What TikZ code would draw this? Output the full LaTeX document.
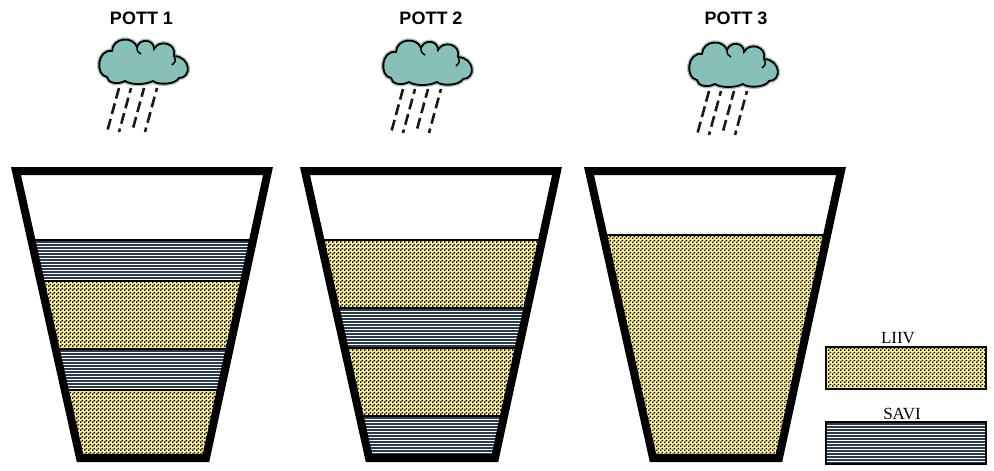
\documentclass[tikz,border=0pt]{standalone}
\usepackage{fontspec}
\setmainfont{Liberation Serif}
\newfontfamily\titlefont{Liberation Sans}
\usetikzlibrary{patterns}

\pgfdeclarepatternformonly{liivdots}{\pgfqpoint{0pt}{0pt}}{\pgfqpoint{4pt}{4pt}}{\pgfqpoint{4pt}{4pt}}{%
  \pgfpathrectangle{\pgfqpoint{0.15pt}{0.15pt}}{\pgfqpoint{1.7pt}{1.7pt}}%
  \pgfpathrectangle{\pgfqpoint{2.15pt}{2.15pt}}{\pgfqpoint{1.7pt}{1.7pt}}%
  \pgfusepath{fill}}

\definecolor{liivyellow}{HTML}{FFF396}
\definecolor{savicolor}{HTML}{2B3B4B}
\definecolor{cloudfill}{HTML}{86C0B8}
\definecolor{cloudhalo}{HTML}{A9BFBB}

\newcommand{\potpath}[1]{(16+#1,171) -- (268+#1,171) -- (206+#1,458) -- (80+#1,458) -- cycle}

% x1 x2 y1 y2 N : white band with N+1 horizontal lines
\newcommand{\savifill}[5]{%
  \fill[white] (#1,#3) rectangle (#2,#4);
  \foreach \k in {0,...,#5} \draw[saviline] (#1,#3+2+3*\k) -- (#2,#3+2+3*\k);}

\newcommand{\cloudrain}[2]{%
  \begin{scope}[shift={(#1,#2)}]
    \path[cloudshape] (-38,14)
      .. controls (-50,12) and (-48,-14) .. (-33,-12)
      .. controls (-32,-26) and (-12,-27) .. (-8,-16)
      .. controls (-5,-25) and (9,-24) .. (9,-14)
      .. controls (14,-24) and (32,-20) .. (29,-7)
      .. controls (46,-6) and (47,15) .. (34,15)
      .. controls (30,22) and (12,22) .. (8,18)
      .. controls (0,22) and (-14,22) .. (-20,18)
      .. controls (-28,22) and (-37,20) .. (-38,14) -- cycle;
    \draw[cloudline] (-8,-16) .. controls (-8,-12) .. (-4,-9);
    \draw[cloudline] (29,-7) .. controls (31,-2) .. (27,2);
    \draw[rain, dash phase=0pt]  (-26,25) -- (-38,69);
    \draw[rain, dash phase=6pt]  (-14,25) -- (-26,69);
    \draw[rain, dash phase=2pt]  (-1,25) -- (-13,69);
    \draw[rain, dash phase=7pt]  (12,25) -- (0,69);
  \end{scope}}

\tikzset{
  liiv/.style={fill=liivyellow, postaction={pattern=liivdots, pattern color=black}},
  saviline/.style={draw=savicolor, line width=1.2pt},
  layerline/.style={line width=2pt, draw=black},
  potwall/.style={line width=8pt, line join=miter, draw=black},
  cloudshape/.style={fill=cloudfill, draw=black, line width=1.8pt,
    preaction={draw=cloudhalo, line width=4.5pt}},
  cloudline/.style={draw=black, line width=1.5pt},
  rain/.style={draw=black!90, line width=2.6pt, dash pattern=on 11pt off 5pt},
  potlabel/.style={font=\titlefont\bfseries\fontsize{18}{20}\selectfont, inner sep=0pt},
  legendlabel/.style={font=\fontsize{17}{19}\selectfont, inner sep=0pt},
  legendbox/.style={draw=black, line width=2pt},
}

\begin{document}
\begin{tikzpicture}[x=1pt, y=-1pt]
\useasboundingbox (0,0) rectangle (994,471);

% titles
\node[potlabel] (t1) at (141.5,18) {POTT 1};
\node[potlabel] (t2) at (431,18) {POTT 2};
\node[potlabel] (t3) at (736,18) {POTT 3};

% clouds
\cloudrain{145}{63}
\cloudrain{429}{64}
\cloudrain{735}{66}

% pot 1
\begin{scope}
  \clip \potpath{0};
  \savifill{0}{300}{240}{281}{12}
  \path[liiv] (0,281) rectangle (300,349);
  \savifill{0}{300}{349}{390}{12}
  \path[liiv] (0,390) rectangle (300,470);
  \draw[layerline] (0,240) -- (300,240);
  \draw[layerline] (0,281) -- (300,281);
  \draw[layerline] (0,349) -- (300,349);
  \draw[layerline] (0,390) -- (300,390);
\end{scope}
\draw[potwall] \potpath{0};

% pot 2
\begin{scope}
  \clip \potpath{289};
  \path[liiv] (290,240) rectangle (590,308);
  \savifill{290}{590}{308}{348}{12}
  \path[liiv] (290,348) rectangle (590,416);
  \savifill{290}{590}{416}{470}{15}
  \draw[layerline] (290,240) -- (590,240);
  \draw[layerline] (290,308) -- (590,308);
  \draw[layerline] (290,348) -- (590,348);
  \draw[layerline] (290,416) -- (590,416);
\end{scope}
\draw[potwall] \potpath{289};

% pot 3
\begin{scope}
  \clip \potpath{573};
  \path[liiv] (570,235) rectangle (870,470);
  \draw[layerline] (570,235) -- (870,235);
\end{scope}
\draw[potwall] \potpath{573};

% legend
\node[legendlabel] (liivlabel) at (898,338) {LIIV};
\path[liiv, legendbox] (826,347) rectangle (986,389);
\node[legendlabel] (savilabel) at (902,414) {SAVI};
\begin{scope}
  \clip (826,422) rectangle (986,464);
  \savifill{826}{986}{422}{464}{13}
\end{scope}
\path[legendbox] (826,422) rectangle (986,464);
\end{tikzpicture}
\end{document}
